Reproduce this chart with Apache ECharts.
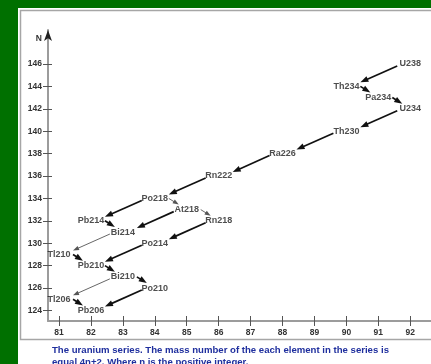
<!DOCTYPE html>
<html>
<head>
<meta charset="utf-8">
<script src="https://cdn.jsdelivr.net/npm/echarts@6/dist/echarts.min.js"></script>
<style>
  html, body { margin: 0; padding: 0; background: #007000; }
  #chart { width: 431px; height: 364px; }
</style>
</head>
<body>
<div id="chart"></div>
<script>
// nuclides of the uranium series: proton number Z (x) and neutron number N (y)
const nuclides = ['U238', 'Th234', 'Pa234', 'U234', 'Th230', 'Ra226', 'Rn222', 'Po218', 'At218', 'Rn218',
  'Pb214', 'Bi214', 'Po214', 'Tl210', 'Pb210', 'Bi210', 'Po210', 'Tl206', 'Pb206']
const protonNumbers = [92, 90, 91, 92, 90, 88, 86, 84, 85, 86, 82, 83, 84, 81, 82, 83, 84, 81, 82]
const neutronNumbers = [146, 144, 143, 142, 140, 138, 136, 134, 133, 132, 132, 131, 130, 129, 128, 127, 126, 125, 124]

// parent -> daughter, decay kind, branch weight
const decays = [
  ['U238', 'Th234', 'alpha', 'major'],
  ['Th234', 'Pa234', 'beta', 'major'],
  ['Pa234', 'U234', 'beta', 'major'],
  ['U234', 'Th230', 'alpha', 'major'],
  ['Th230', 'Ra226', 'alpha', 'major'],
  ['Ra226', 'Rn222', 'alpha', 'major'],
  ['Rn222', 'Po218', 'alpha', 'major'],
  ['Po218', 'Pb214', 'alpha', 'major'],
  ['Po218', 'At218', 'beta', 'minor'],
  ['At218', 'Rn218', 'beta', 'minor'],
  ['At218', 'Bi214', 'alpha', 'major'],
  ['Pb214', 'Bi214', 'beta', 'major'],
  ['Rn218', 'Po214', 'alpha', 'major'],
  ['Bi214', 'Tl210', 'alpha', 'minor'],
  ['Po214', 'Pb210', 'alpha', 'major'],
  ['Tl210', 'Pb210', 'beta', 'major'],
  ['Pb210', 'Bi210', 'beta', 'major'],
  ['Bi210', 'Po210', 'beta', 'major'],
  ['Bi210', 'Tl206', 'alpha', 'minor'],
  ['Po210', 'Pb206', 'alpha', 'major'],
  ['Tl206', 'Pb206', 'beta', 'major'],
]

const xTicks = [81, 82, 83, 84, 85, 86, 87, 88, 89, 90, 91, 92]
const yTicks = [124, 126, 128, 130, 132, 134, 136, 138, 140, 142, 144, 146]

const captionLines = [
  'The uranium series. The mass number of the each element in the series is',
  'equal 4n+2. Where n is the positive integer.',
]

const sans = "'Liberation Sans', Arial, sans-serif"

const nodeData = nuclides.map((name, i) => [protonNumbers[i], neutronNumbers[i], name])
const arrowData = decays.map(([from, to, kind, weight]) => {
  const a = nuclides.indexOf(from)
  const b = nuclides.indexOf(to)
  return [protonNumbers[a], neutronNumbers[a], protonNumbers[b], neutronNumbers[b], kind, weight]
})

// pixel offsets from the label centres where arrows start and end
const arrowOffsets = {
  alpha: { start: [-13, 2], end: [14, -4] },
  beta: { start: [14, 0], end: [-8, -5] },
}
const arrowStyles = {
  major: { color: '#111', width: 1.7, headLen: 8, headW: 6 },
  minor: { color: '#555', width: 0.9, headLen: 6, headW: 4.5 },
}

function renderArrow(params, api) {
  const kind = arrowData[params.dataIndex][4]
  const weight = arrowData[params.dataIndex][5]
  const off = arrowOffsets[kind]
  const st = arrowStyles[weight]
  const p = api.coord([api.value(0), api.value(1)])
  const q = api.coord([api.value(2), api.value(3)])
  const s = [p[0] + off.start[0], p[1] + off.start[1]]
  const e = [q[0] + off.end[0], q[1] + off.end[1]]
  const dx = e[0] - s[0]
  const dy = e[1] - s[1]
  const len = Math.sqrt(dx * dx + dy * dy)
  const ux = dx / len
  const uy = dy / len
  const base = [e[0] - ux * st.headLen, e[1] - uy * st.headLen]
  const half = st.headW / 2
  return {
    type: 'group',
    children: [
      {
        type: 'line',
        shape: { x1: s[0], y1: s[1], x2: base[0] + ux, y2: base[1] + uy },
        style: { stroke: st.color, lineWidth: st.width },
      },
      {
        type: 'polygon',
        shape: {
          points: [e, [base[0] - uy * half, base[1] + ux * half], [base[0] + uy * half, base[1] - ux * half]],
        },
        style: { fill: st.color },
      },
    ],
  }
}

const xMin = 80.655
const xMax = 92.65
const yMin = 123.06
const yMax = 149.03

const axisLabelStyle = {
  fontFamily: sans,
  fontWeight: 'bold',
  fontSize: 8.5,
  color: '#333',
}

const chart = echarts.init(document.getElementById('chart'))
chart.setOption({
  backgroundColor: '#007000',
  animation: false,
  graphic: [
    {
      type: 'rect',
      z: -100,
      silent: true,
      shape: { x: 18, y: 8, width: 430, height: 370 },
      style: { fill: '#fff' },
    },
    {
      type: 'rect',
      z: -99,
      silent: true,
      shape: { x: 20.5, y: 10.5, width: 430, height: 329 },
      style: { fill: 'none', stroke: '#a6a6a6', lineWidth: 1.5 },
    },
    {
      type: 'text',
      silent: true,
      x: 52,
      y: 344,
      style: {
        text: captionLines.join('\n'),
        fill: '#1f2f9e',
        font: "bold 9.6px 'Liberation Sans', sans-serif",
        lineHeight: 12,
      },
    },
  ],
  grid: {
    left: 48,
    top: 30,
    width: 397,
    height: 291,
  },
  xAxis: [
    {
      type: 'value',
      position: 'bottom',
      min: xMin,
      max: xMax,
      axisLine: { lineStyle: { color: '#9c9c9c', width: 2 } },
      axisTick: { customValues: xTicks, length: 5, lineStyle: { color: '#555', width: 1 } },
      axisLabel: { customValues: xTicks, margin: 7, ...axisLabelStyle },
      splitLine: { show: false },
    },
    {
      type: 'value',
      position: 'bottom',
      min: xMin,
      max: xMax,
      axisLine: { show: false },
      axisTick: { customValues: xTicks, inside: true, length: 5, lineStyle: { color: '#555', width: 1 } },
      axisLabel: { show: false },
      splitLine: { show: false },
    },
  ],
  yAxis: [
    {
      type: 'value',
      position: 'left',
      min: yMin,
      max: yMax,
      name: 'N',
      nameLocation: 'end',
      nameGap: -9,
      nameTextStyle: {
        align: 'right',
        verticalAlign: 'middle',
        padding: [0, 6, 0, 0],
        ...axisLabelStyle,
      },
      axisLine: { lineStyle: { color: '#9c9c9c', width: 2 } },
      axisTick: { customValues: yTicks, length: 5, lineStyle: { color: '#555', width: 1 } },
      axisLabel: { customValues: yTicks, margin: 6, ...axisLabelStyle },
      splitLine: { show: false },
    },
    {
      type: 'value',
      position: 'left',
      min: yMin,
      max: yMax,
      axisLine: {
        show: true,
        symbol: ['none', 'arrow'],
        symbolSize: [6, 11],
        lineStyle: { color: '#222', width: 0.01 },
      },
      axisTick: { customValues: yTicks, inside: true, length: 4, lineStyle: { color: '#555', width: 1 } },
      axisLabel: { show: false },
      splitLine: { show: false },
    },
  ],
  series: [
    {
      type: 'custom',
      name: 'decays',
      xAxisIndex: 0,
      yAxisIndex: 0,
      renderItem: renderArrow,
      data: arrowData.map((d) => d.slice(0, 4)),
      clip: false,
      z: 2,
    },
    {
      type: 'scatter',
      name: 'nuclides',
      xAxisIndex: 0,
      yAxisIndex: 0,
      symbolSize: 0,
      data: nodeData,
      z: 3,
      label: {
        show: true,
        position: 'inside',
        formatter: (p) => p.data[2],
        fontFamily: sans,
        fontWeight: 'bold',
        fontSize: 9,
        color: '#222',
      },
    },
  ],
})
</script>
</body>
</html>
